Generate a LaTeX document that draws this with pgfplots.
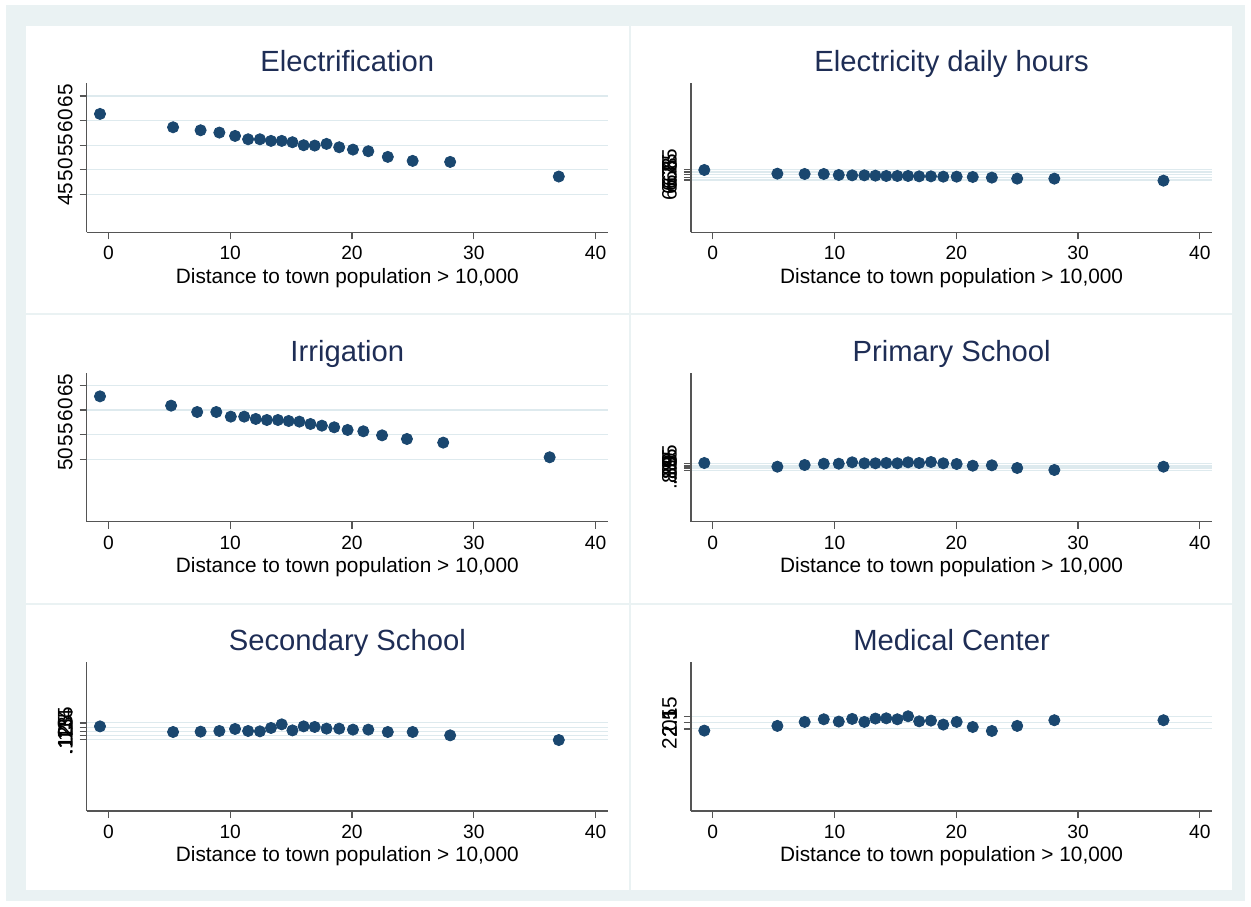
\documentclass[border=0pt]{standalone}
\usepackage{fontspec}
\setmainfont{Liberation Sans}
\usepackage{pgfplots}
\pgfplotsset{compat=1.18}
\definecolor{navy}{RGB}{26,71,111}
\definecolor{titlec}{RGB}{30,45,85}
\definecolor{gridc}{RGB}{222,234,238}
\definecolor{framec}{RGB}{234,242,243}
\definecolor{axisc}{RGB}{85,85,85}
\pgfplotsset{
  panel/.style={
    scale only axis, width=260.7pt, height=74.5pt,
    axis lines=left, axis line style={-, draw=axisc, line width=0.6pt},
    xmin=-1.79, xmax=41.02, xtick={0,10,20,30,40},
    tick align=outside, major tick length=3.5pt,
    tick style={draw=axisc, line width=0.6pt},
    ymajorgrids, grid style={draw=gridc, line width=0.55pt},
    /pgf/number format/assume math mode=true,
    ticklabel style={font=\fontsize{9.6}{11}\selectfont},
    yticklabel style={rotate=90, anchor=south, font=\fontsize{10.4}{12}\selectfont},
    xlabel={Distance to town population > 10,000},
    xlabel style={font=\fontsize{10.4}{12}\selectfont, at={(axis description cs:0.5,0)}, anchor=base, yshift=-25.4pt},
    title style={font=\fontsize{14.6}{16}\selectfont, color=titlec, at={(axis description cs:0.5,1)}, anchor=base, yshift=-0.3pt},
  },
  dots/.style={only marks, mark=*, mark size=2.8pt, color=navy, mark options={draw=navy, fill=navy}},
}
\begin{document}
\begin{tikzpicture}
\useasboundingbox (0,0) rectangle (625.5pt,-453pt);
\fill[framec] (3pt,-2.5pt) rectangle (622.5pt,-450.5pt);
\fill[white] (13pt,-13pt) rectangle (616pt,-445pt);
\fill[framec] (314.5pt,-13pt) rectangle (315.5pt,-445pt);
\fill[framec] (13pt,-156.5pt) rectangle (616pt,-157.5pt);
\fill[framec] (13pt,-301.25pt) rectangle (616pt,-302.25pt);

% Electrification
\begin{axis}[panel, at={(43.3pt,-116.15pt)}, anchor=south west,
  title={Electrification}, ymin=37.3, ymax=67.57, ytick={45,50,55,60,65}]
\addplot[dots] coordinates {
(-0.69,61.35) (5.31,58.64) (7.57,58.03) (9.11,57.56) (10.40,56.88)
(11.47,56.20) (12.44,56.20) (13.35,55.87) (14.23,55.87) (15.11,55.60)
(16.03,54.99) (16.94,54.92) (17.91,55.26) (18.95,54.58) (20.08,54.10)
(21.34,53.77) (22.94,52.62) (24.98,51.81) (28.06,51.60) (36.98,48.63)};
\end{axis}

% Electricity daily hours
\begin{axis}[panel, at={(345.45pt,-116.15pt)}, anchor=south west,
  title={Electricity daily hours}, ymin=5.67, ymax=8.46,
  ytick={6.65,6.7,6.75,6.8,6.85}, yticklabels={6.65,6.7,6.75,6.8,6.85}]
\addplot[dots] coordinates {
(-0.69,6.837) (5.31,6.768) (7.55,6.762) (9.12,6.762) (10.35,6.743)
(11.45,6.737) (12.45,6.737) (13.36,6.731) (14.25,6.725) (15.16,6.725)
(16.04,6.725) (16.95,6.718) (17.92,6.718) (18.93,6.712) (20.03,6.712)
(21.35,6.706) (22.92,6.694) (25.00,6.675) (28.05,6.675) (37.01,6.637)};
\end{axis}

% Irrigation
\begin{axis}[panel, at={(43.3pt,-260.85pt)}, anchor=south west,
  title={Irrigation}, ymin=37.34, ymax=67.56, ytick={50,55,60,65}]
\addplot[dots] coordinates {
(-0.69,62.77) (5.15,60.88) (7.29,59.59) (8.86,59.59) (10.05,58.65)
(11.15,58.65) (12.10,58.18) (13.01,57.97) (13.92,57.97) (14.80,57.77)
(15.68,57.64) (16.59,57.16) (17.53,56.82) (18.54,56.49) (19.64,55.95)
(20.93,55.68) (22.47,54.86) (24.51,54.12) (27.49,53.38) (36.23,50.41)};
\end{axis}

% Primary School
\begin{axis}[panel, at={(345.45pt,-260.85pt)}, anchor=south west,
  title={Primary School}, ymin=0.742, ymax=1.145,
  ytick={0.88,0.885,0.89,0.895,0.9}, yticklabels={.88,.885,.89,.895,.9}]
\addplot[dots] coordinates {
(-0.69,0.9008) (5.31,0.8908) (7.55,0.8954) (9.12,0.8989) (10.35,0.8989)
(11.45,0.9027) (12.45,0.9000) (13.36,0.9000) (14.25,0.9008) (15.16,0.9000)
(16.04,0.9027) (16.95,0.9008) (17.92,0.9035) (18.93,0.9000) (20.03,0.8981)
(21.35,0.8935) (22.92,0.8946) (25.00,0.8873) (28.05,0.8819) (37.01,0.8908)};
\end{axis}

% Secondary School
\begin{axis}[panel, at={(43.3pt,-405.5pt)}, anchor=south west,
  title={Secondary School}, ymin=0.035, ymax=0.2126,
  ytick={0.12,0.125,0.13,0.135,0.14}, yticklabels={.12,.125,.13,.135,.14}]
\addplot[dots] coordinates {
(-0.69,0.1359) (5.31,0.1292) (7.57,0.1296) (9.11,0.1304) (10.40,0.1328)
(11.47,0.1304) (12.44,0.1300) (13.35,0.1340) (14.23,0.1383) (15.11,0.1311)
(16.03,0.1359) (16.94,0.1352) (17.91,0.1332) (18.95,0.1332) (20.08,0.1320)
(21.34,0.1320) (22.94,0.1292) (24.98,0.1292) (28.06,0.1252) (36.98,0.1196)};
\end{axis}

% Medical Center
\begin{axis}[panel, at={(345.45pt,-405.5pt)}, anchor=south west,
  title={Medical Center}, ymin=1.369, ymax=2.605,
  ytick={2.05,2.1,2.15}, yticklabels={2.05,2.1,2.15}]
\addplot[dots] coordinates {
(-0.69,2.036) (5.31,2.075) (7.55,2.108) (9.12,2.130) (10.35,2.111)
(11.45,2.133) (12.45,2.108) (13.36,2.136) (14.25,2.138) (15.16,2.130)
(16.04,2.155) (16.95,2.113) (17.92,2.119) (18.93,2.086) (20.03,2.108)
(21.35,2.066) (22.92,2.033) (25.00,2.075) (28.05,2.122) (37.01,2.122)};
\end{axis}
\end{tikzpicture}
\end{document}
